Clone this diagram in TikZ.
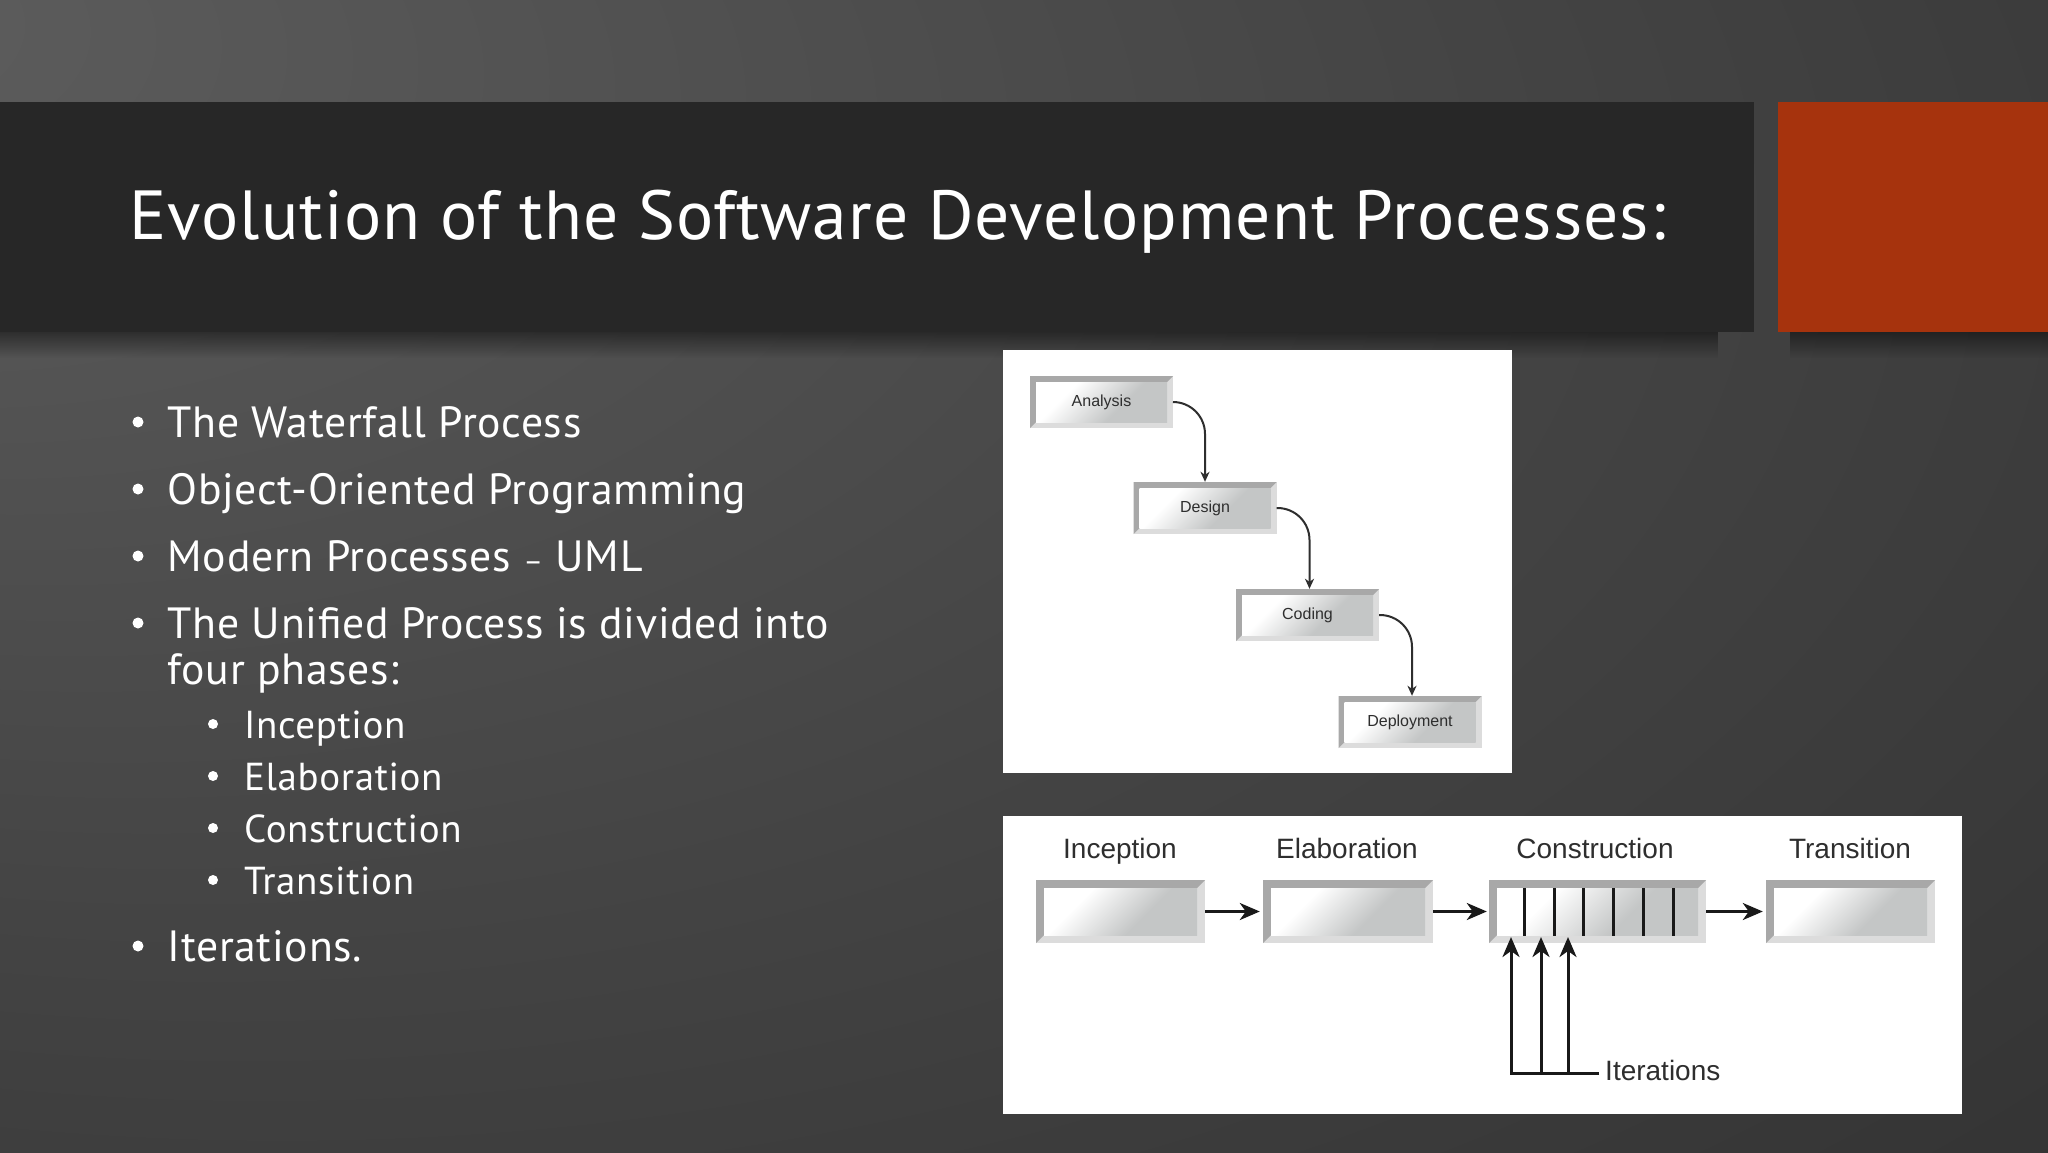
\documentclass[tikz,border=0pt]{standalone}
\usepackage{fontspec}
\setmainfont[LetterSpace=1.6]{PT Sans}
\newfontfamily\diagramfont{Liberation Sans}
\usetikzlibrary{arrows.meta,fadings}

\definecolor{bandgray}{HTML}{272727}
\definecolor{accentred}{HTML}{A6330D}
\definecolor{bevelgray}{HTML}{A8A8A8}
\definecolor{bevellight}{HTML}{DCDCDC}
\definecolor{facegray}{HTML}{C4C6C6}
\definecolor{inkgray}{HTML}{2E2E2E}
\definecolor{bgcentre}{HTML}{5E5E5E}
\definecolor{bgmiddle}{HTML}{444444}
\definecolor{bgedge}{HTML}{272727}

\pgfdeclareradialshading{slidebg}{\pgfpoint{-30bp}{25bp}}{color(0bp)=(bgcentre); color(32bp)=(bgmiddle); color(72bp)=(bgedge); color(100bp)=(bgedge)}
\pgfdeclarehorizontalshading{facefade}{100bp}{color(0bp)=(white); color(32bp)=(white); color(60bp)=(facegray); color(100bp)=(facegray)}

\tikzset{
  titletext/.style={anchor=base west,inner sep=0pt,text=white,font=\fontsize{69.5}{70}\selectfont},
  itemtext/.style={anchor=base west,inner sep=0pt,text=white,font=\fontsize{43.7}{44}\selectfont},
  subtext/.style={anchor=base west,inner sep=0pt,text=white,font=\fontsize{39}{39}\selectfont},
  itemdot/.style={circle,fill=white,inner sep=0pt,minimum size=#1},
  bevelbox/.style={rectangle,inner sep=0pt,fill=bevellight,text=inkgray,
    path picture={
      \fill[bevelgray] (path picture bounding box.north west) -- (path picture bounding box.north east)
        -- ([xshift=-#1,yshift=-#1]path picture bounding box.north east)
        -- ([xshift=#1,yshift=-#1]path picture bounding box.north west)
        -- ([xshift=#1,yshift=#1]path picture bounding box.south west)
        -- (path picture bounding box.south west) -- cycle;
      \shade[shading=facefade,shading angle=-45] ([xshift=#1,yshift=-#1]path picture bounding box.north west)
        rectangle ([xshift=-#1,yshift=#1]path picture bounding box.south east);
    }},
  stepbox/.style={bevelbox=6pt,minimum width=143pt,minimum height=52pt,font=\diagramfont\fontsize{16}{16}\selectfont},
  phasebox/.style={bevelbox=8pt,minimum height=63pt},
  phaselabel/.style={anchor=base,inner sep=0pt,text=inkgray,font=\diagramfont\fontsize{28}{28}\selectfont},
  steparrow/.style={draw=inkgray,line width=2pt,rounded corners=32pt,-{Stealth[length=10pt,width=9pt,inset=3pt]}},
  phasearrow/.style={draw=black!90,line width=3pt,-{Stealth[length=20pt,width=17pt,inset=6pt]}},
  tickline/.style={draw=black!90,line width=3pt},
  castshadow/.style={fill=black,fill opacity=.45,path fading=south}
}

\begin{document}
\begin{tikzpicture}[x=1pt,y=-1pt]
\useasboundingbox (0,0) rectangle (2048,1152);

% slide
\shade[shading=slidebg] (0,0) rectangle (2048,1152);
\fill[castshadow] (0,332) rectangle (1725,358);
\fill[castshadow] (1790,332) rectangle (2048,358);
\fill[bandgray] (0,102) rectangle (1754,332);
\fill[accentred] (1778,102) rectangle (2048,332);
\node[titletext] (title) at (129,239) {Evolution of the Software Development Processes:};

% left column
\node[itemdot=11pt] (dota) at (138,422) {};
\node[itemtext] (waterfall) at (167.5,437) {The Waterfall Process};
\node[itemdot=11pt] (dotb) at (138,489) {};
\node[itemtext] (oop) at (167.5,504) {Object-Oriented Programming};
\node[itemdot=11pt] (dotc) at (138,556) {};
\node[itemtext] (modern) at (167.5,571) {Modern Processes {\fontsize{30}{30}\selectfont –} UML};
\node[itemdot=11pt] (dotd) at (138,623) {};
\node[itemtext] (unified) at (167.5,638) {The Unified Process is divided into};
\node[itemtext] (four) at (167.5,684) {four phases:};
\node[itemdot=10pt] (dote) at (213,724) {};
\node[subtext] (inceptionitem) at (244,738) {Inception};
\node[itemdot=10pt] (dotf) at (213,776) {};
\node[subtext] (elaborationitem) at (244,790) {Elaboration};
\node[itemdot=10pt] (dotg) at (213,828) {};
\node[subtext] (constructionitem) at (244,842) {Construction};
\node[itemdot=10pt] (doth) at (213,880) {};
\node[subtext] (transitionitem) at (244,894) {Transition};
\node[itemdot=11pt] (doti) at (138,946) {};
\node[itemtext] (iterationsitem) at (167.5,961) {Iterations.};

% waterfall picture
\fill[white] (1003,350) rectangle (1512,773);
\node[stepbox] (analysis) at (1101.5,402) {Analysis};
\node[stepbox] (design) at (1205,508) {Design};
\node[stepbox] (coding) at (1307.5,615) {Coding};
\node[stepbox] (deployment) at (1410,722) {Deployment};
\draw[steparrow] (analysis.east) -| (design.north);
\draw[steparrow] (design.east) -| ([xshift=2pt]coding.north);
\draw[steparrow] (coding.east) -| ([xshift=2pt]deployment.north);

% phases picture
\fill[white] (1003,816) rectangle (1962,1114);
\node[phasebox,minimum width=169pt] (inception) at (1120.5,911.5) {};
\node[phasebox,minimum width=170pt] (elaboration) at (1348,911.5) {};
\node[phasebox,minimum width=217pt] (construction) at (1597.5,911.5) {};
\node[phasebox,minimum width=169pt] (transition) at (1850.5,911.5) {};
\node[phaselabel] (inceptionlabel) at (1120,858) {Inception};
\node[phaselabel] (elaborationlabel) at (1347,858) {Elaboration};
\node[phaselabel] (constructionlabel) at (1595,858) {Construction};
\node[phaselabel] (transitionlabel) at (1850,858) {Transition};
\draw[phasearrow,shorten >=3pt] (inception) -- (elaboration);
\draw[phasearrow,shorten >=2pt] (elaboration) -- (construction);
\draw[phasearrow,shorten >=3pt] (construction) -- (transition);
\draw[tickline] (1524,888) -- (1524,936);
\draw[tickline] (1554,888) -- (1554,936);
\draw[tickline] (1583,888) -- (1583,936);
\draw[tickline] (1613,888) -- (1613,936);
\draw[tickline] (1643,888) -- (1643,936);
\draw[tickline] (1673,888) -- (1673,936);
\node[anchor=base west,inner sep=0pt,text=inkgray,font=\diagramfont\fontsize{28}{28}\selectfont] (iterations) at (1605,1080) {Iterations};
\coordinate (iterjoin) at ([yshift=-3pt]iterations.west);
\coordinate (tipa) at (1511,937);
\coordinate (tipb) at (1541,937);
\coordinate (tipc) at (1568,937);
\draw[phasearrow,shorten <=6pt] (iterjoin) -| (tipa);
\draw[phasearrow] (iterjoin -| tipb) -- (tipb);
\draw[phasearrow] (iterjoin -| tipc) -- (tipc);

\end{tikzpicture}
\end{document}
